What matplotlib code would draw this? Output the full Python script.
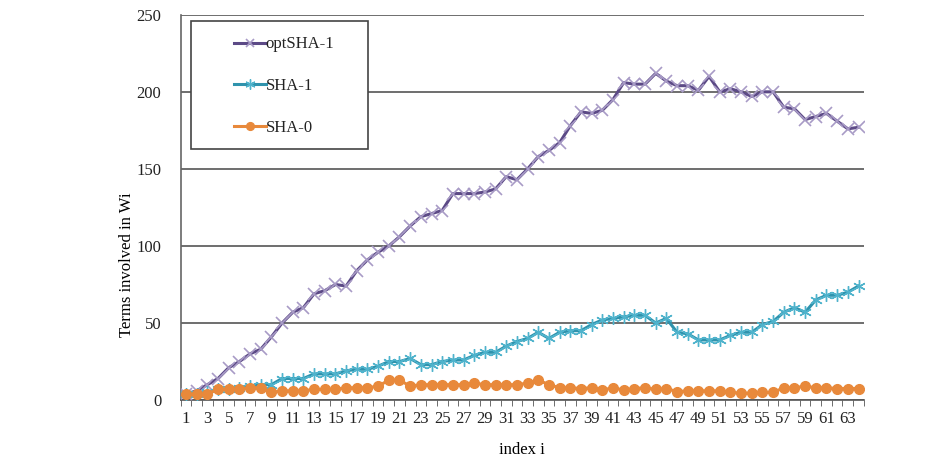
import numpy as np
import matplotlib.pyplot as plt
from matplotlib.patches import Rectangle

# index i = 1..64
index = list(range(1, 65))

opt_sha1 = [4, 6, 10, 14, 21, 25, 30, 33, 41, 50,
            57, 60, 69, 71, 75, 74, 84, 91, 96, 100,
            106, 113, 119, 121, 123, 134, 134, 134, 135, 137,
            145, 143, 150, 158, 162, 167, 178, 187, 186, 188,
            195, 206, 205, 205, 212, 207, 204, 204, 201, 210,
            200, 202, 200, 197, 200, 200, 190, 189, 182, 184,
            186, 181, 176, 177]

sha1 = [4, 4, 5, 7, 7, 8, 9, 10, 10, 14,
        14, 14, 17, 17, 17, 19, 20, 20, 22, 25,
        25, 27, 23, 23, 25, 26, 26, 29, 31, 31,
        35, 38, 40, 44, 40, 44, 45, 45, 49, 52,
        53, 54, 55, 55, 50, 53, 44, 43, 39, 39,
        39, 42, 44, 44, 49, 51, 57, 60, 57, 65,
        68, 68, 70, 74]

sha0 = [4, 4, 4, 7, 7, 7, 8, 8, 5, 6,
        6, 6, 7, 7, 7, 8, 8, 8, 9, 13,
        13, 9, 10, 10, 10, 10, 10, 11, 10, 10,
        10, 10, 11, 13, 10, 8, 8, 7.5, 8, 6.5,
        8, 6.5, 7.5, 8, 7, 7.5, 5.5, 6, 6, 6,
        6, 5, 4.5, 4.5, 5, 5, 8, 8, 9, 8,
        8, 7.5, 7.5, 7.5]

xtick_labels = [str(i) for i in range(1, 65, 2)]

plt.rcParams['font.family'] = ['Liberation Serif', 'DejaVu Serif']

fig = plt.figure(figsize=(9.41, 4.62), dpi=100)
ax = fig.add_axes([0.192, 0.134, 0.726, 0.834])

# lines
ax.plot(index, opt_sha1, color='#5c4a86', lw=2.2, marker='x', ms=8,
        mec='#a89bc6', mew=1.2, label='optSHA-1', zorder=3)
ax.plot(index, sha1, color='#2f93ad', lw=2.2, marker=(6, 2, 0), ms=9,
        mec='#4fb3cc', mew=1.0, label='SHA-1', zorder=3)
ax.plot(index, sha0, color='#e8893b', lw=2.2, marker='o', ms=7,
        mfc='#e8893b', mec='#e8893b', label='SHA-0', zorder=3)

ax.set_xlim(0.6, 64.4)
ax.set_ylim(0, 250)
ax.set_yticks([0, 50, 100, 150, 200, 250])
ax.yaxis.grid(True, color='#555555', lw=1.2)
ax.set_axisbelow(True)
ax.tick_params(axis='y', length=0, labelsize=12, pad=14, labelcolor='#222222')

ax.set_xticks(index[::2])
ax.set_xticklabels(xtick_labels)
ax.set_xticks(np.arange(0.5, 65, 1), minor=True)
ax.tick_params(axis='x', which='major', length=0, labelsize=12, pad=8, labelcolor='#222222')
ax.tick_params(axis='x', which='minor', length=4, color='#555555', direction='out')

for s in ['top', 'right']:
    ax.spines[s].set_visible(False)
ax.spines['left'].set_color('#666666')
ax.spines['left'].set_linewidth(1.2)
ax.spines['bottom'].set_color('#555555')
ax.spines['bottom'].set_linewidth(1.2)

ax.set_xlabel('index i', fontsize=12, va='center')
ax.xaxis.set_label_coords(0.5, -0.13)
ax.set_ylabel('Terms involved in Wi', fontsize=12, va='center')
ax.yaxis.set_label_coords(-0.079, 0.35)

# legend box (Excel-style, wide with the keys set in from the left)
ax.add_patch(Rectangle((0.0146, 0.652), 0.259, 0.332, transform=ax.transAxes,
                       facecolor='white', edgecolor='#444444', lw=1.2, zorder=4))
leg = ax.legend(loc='upper left', bbox_to_anchor=(0.078, 0.944), fontsize=12,
                frameon=False, borderpad=0, labelspacing=1.55, handlelength=1.9,
                handletextpad=0.0, borderaxespad=0, markerscale=0.8)
leg.set_zorder(5)
for t in leg.get_texts():
    t.set_color('#222222')

fig.savefig('out.png', dpi=100)
